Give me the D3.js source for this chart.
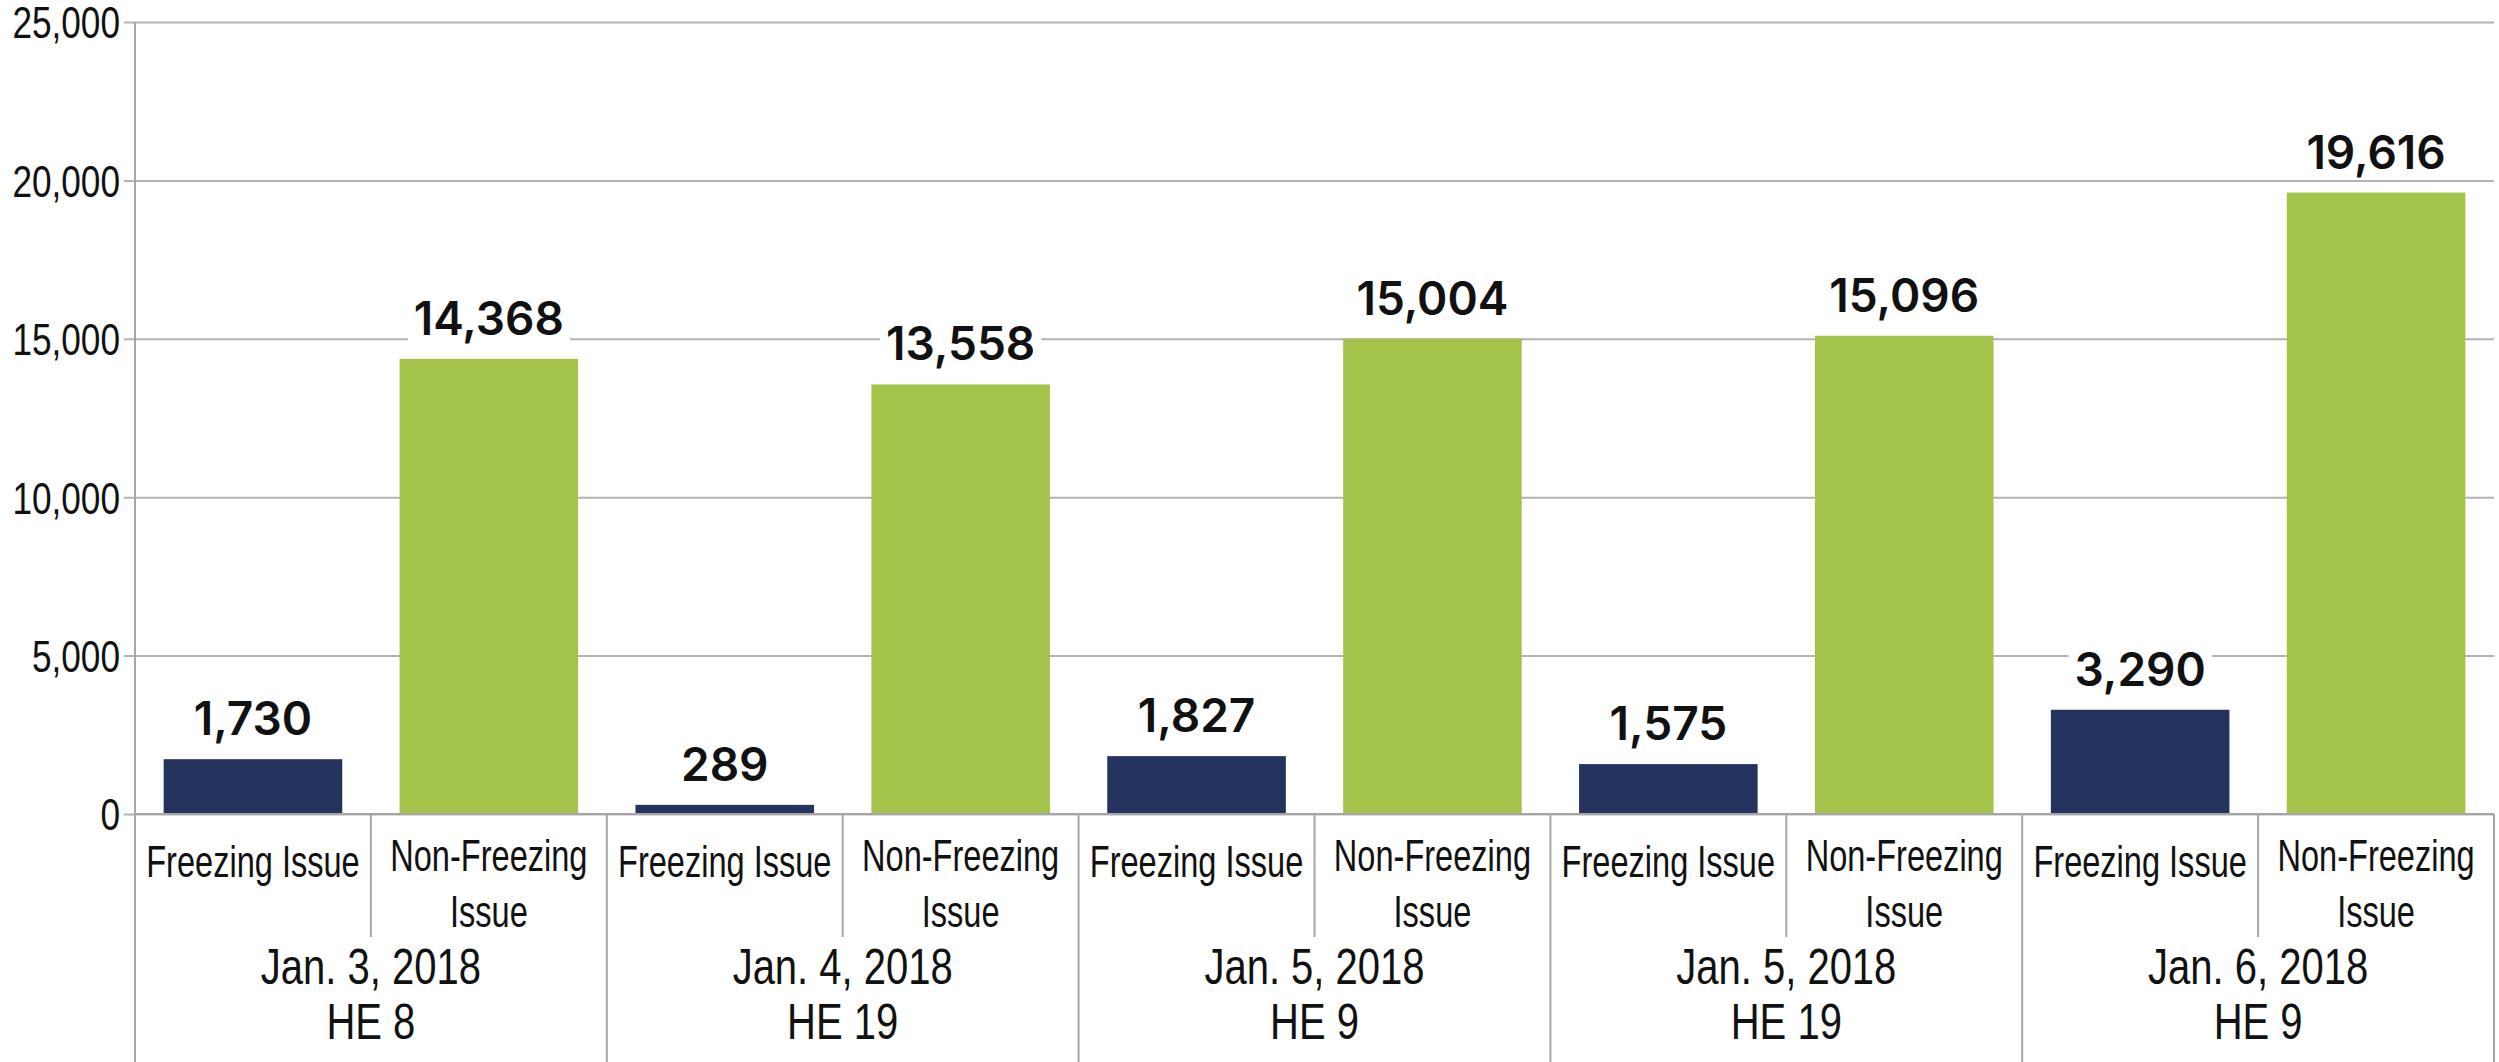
<!DOCTYPE html>
<html>
<head>
<meta charset="utf-8">
<script src="https://cdn.jsdelivr.net/npm/d3@7"></script>
<style>
  body { margin: 0; background: #fff; }
  .axis text, .cat, .grp { font-family: "Liberation Sans", Arial, sans-serif; fill: #111; }
  .axis text { font-size: 44px; }
  .cat { font-size: 44px; }
  .grp { font-size: 50px; }
  .val { font-family: Inter, "Open Sans", sans-serif; font-size: 46px; font-weight: 600; fill: #111; }
</style>
</head>
<body>
<div id="chart"></div>
<script>
var groups = ['Jan. 3, 2018|HE 8', 'Jan. 4, 2018|HE 19', 'Jan. 5, 2018|HE 9', 'Jan. 5, 2018|HE 19', 'Jan. 6, 2018|HE 9'];
var series = ['Freezing Issue', 'Non-Freezing|Issue'];
var freezing = [1730, 289, 1827, 1575, 3290];
var nonFreezing = [14368, 13558, 15004, 15096, 19616];
var yTicks = [0, 5000, 10000, 15000, 20000, 25000];
var colors = ['#24345f', '#a4c34a'];

var W = 2499, H = 1062;
var mLeft = 135, mRight = 2494, mTop = 22, base = 814;

var rows = [];
groups.forEach(function(g, i) {
  rows.push({ group: i, s: 0, key: i + '-0', value: freezing[i] });
  rows.push({ group: i, s: 1, key: i + '-1', value: nonFreezing[i] });
});

var x = d3.scaleBand()
  .domain(rows.map(function(d) { return d.key; }))
  .range([mLeft, mRight])
  .paddingInner(0.243)
  .paddingOuter(0.1215);

var xb = d3.scaleBand()
  .domain(rows.map(function(d) { return d.key; }))
  .range([mLeft, mRight]);

var y = d3.scaleLinear().domain([0, 25000]).range([base, mTop]);

var svg = d3.select('#chart').append('svg')
  .attr('width', W)
  .attr('height', H);

// squeeze a text horizontally (condensed look)
var condense = function(sel, s) {
  sel.each(function() {
    var t = d3.select(this);
    var tx = +t.attr('x') || 0;
    t.attr('x', tx / s).attr('transform', 'scale(' + s + ',1)');
    t.selectAll('tspan').each(function() {
      var sp = d3.select(this);
      sp.attr('x', (+sp.attr('x') || 0) / s);
    });
  });
};

// grid + y axis
var yAxis = svg.append('g')
  .attr('class', 'axis')
  .attr('transform', 'translate(' + mLeft + ',0)')
  .call(d3.axisLeft(y).tickValues(yTicks).tickFormat(d3.format(',')).tickSizeInner(-(mRight - mLeft)).tickSizeOuter(0).tickPadding(15));
yAxis.select('.domain').remove();
yAxis.selectAll('.tick line')
  .attr('x1', -11)
  .attr('stroke', '#b3b3b3')
  .attr('stroke-width', 2);
yAxis.selectAll('.tick text').attr('dy', '0.36em').attr('x', -15);
yAxis.attr('font-size', null).attr('font-family', null);
condense(yAxis.selectAll('.tick text'), 0.8);

// bars
svg.append('g').selectAll('rect')
  .data(rows)
  .enter().append('rect')
  .attr('x', function(d) { return x(d.key); })
  .attr('width', x.bandwidth())
  .attr('y', function(d) { return y(d.value); })
  .attr('height', function(d) { return base - y(d.value); })
  .attr('fill', function(d) { return colors[d.s]; });

// value labels with white backing
var lab = svg.append('g').selectAll('g')
  .data(rows)
  .enter().append('g');
lab.append('text')
  .attr('class', 'val')
  .attr('text-anchor', 'middle')
  .attr('x', function(d) { return x(d.key) + x.bandwidth() / 2; })
  .attr('y', function(d) { return y(d.value) - 24; })
  .text(function(d) { return d3.format(',')(d.value); });
lab.each(function() {
  var t = d3.select(this).select('text');
  var b = t.node().getBBox();
  d3.select(this).insert('rect', 'text')
    .attr('x', b.x - 6).attr('y', b.y)
    .attr('width', b.width + 12).attr('height', b.height)
    .attr('fill', '#fff');
});

// axis lines
var lines = svg.append('g').attr('stroke', '#a6a6a6').attr('stroke-width', 2);
lines.append('line').attr('x1', mLeft).attr('x2', mLeft).attr('y1', mTop).attr('y2', H);
lines.append('line').attr('x1', mLeft).attr('x2', mRight).attr('y1', base).attr('y2', base);
groups.forEach(function(g, i) {
  var gx = xb(i + '-1') + xb.bandwidth();
  lines.append('line').attr('x1', gx).attr('x2', gx).attr('y1', base).attr('y2', H);
  var mx = xb(i + '-1');
  lines.append('line').attr('x1', mx).attr('x2', mx).attr('y1', base).attr('y2', 937);
});

// category labels
var cats = svg.append('g').selectAll('text')
  .data(rows)
  .enter().append('text')
  .attr('class', 'cat')
  .attr('text-anchor', 'middle')
  .attr('x', function(d) { return xb(d.key) + xb.bandwidth() / 2; })
  .attr('y', function(d) { return d.s ? 871 : 877; })
  .each(function(d) {
    var parts = series[d.s].split('|');
    var t = d3.select(this);
    parts.forEach(function(p, k) {
      t.append('tspan')
        .attr('x', xb(d.key) + xb.bandwidth() / 2)
        .attr('dy', k ? 56 : 0)
        .text(p);
    });
  });
condense(cats, 0.74);

// group labels
var grps = svg.append('g').selectAll('text')
  .data(groups)
  .enter().append('text')
  .attr('class', 'grp')
  .attr('text-anchor', 'middle')
  .attr('x', function(d, i) { return xb(i + '-1'); })
  .attr('y', 984)
  .each(function(d, i) {
    var t = d3.select(this);
    d.split('|').forEach(function(p, k) {
      t.append('tspan')
        .attr('x', xb(i + '-1'))
        .attr('dy', k ? 55 : 0)
        .text(p);
    });
  });
condense(grps, 0.8);
</script>
</body>
</html>
